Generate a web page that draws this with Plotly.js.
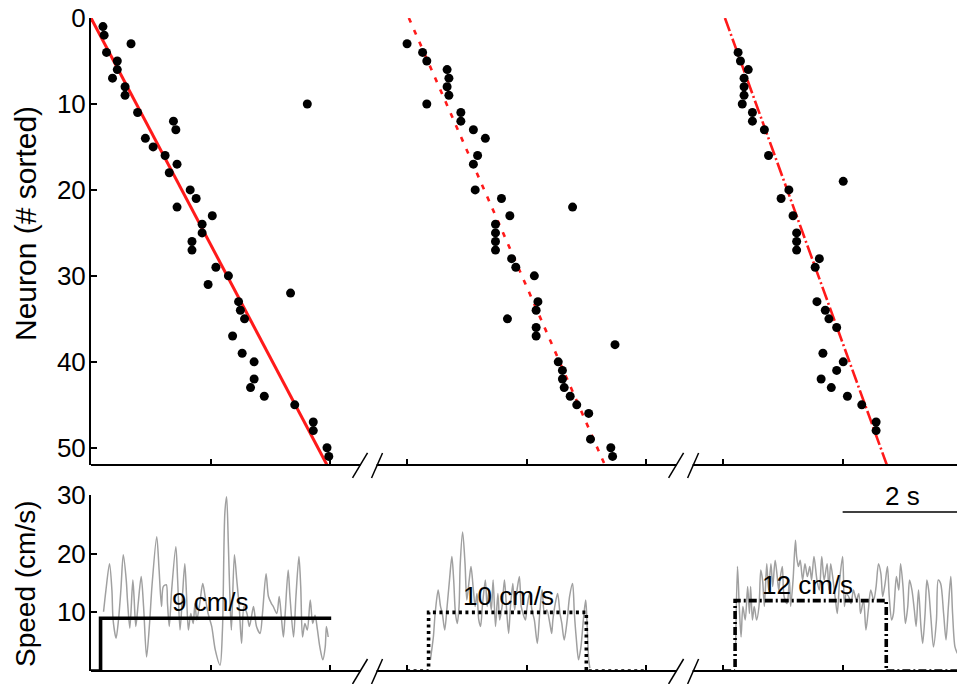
<!DOCTYPE html>
<html>
<head>
<meta charset="utf-8">
<script src="https://cdn.plot.ly/plotly-3.0.1.min.js"></script>
<style>
  html, body { margin: 0; padding: 0; background: #fff; }
  #chart { width: 957px; height: 684px; }
</style>
</head>
<body>
<div id="chart"></div>
<script>
// ---- Sequence raster: sorted neuron index and its peak-firing time (s from run onset) ----
const run1Neuron = [1,2,3,4,5,6,7,8,9,10,11,12,13,14,15,16,17,18,20,21,22,23,24,25,26,27,29,30,31,32,33,34,35,37,39,40,42,43,44,45,47,48,50,51];
const run1Time   = [0.20,0.22,0.67,0.26,0.44,0.44,0.36,0.57,0.57,3.62,0.78,1.38,1.42,0.91,1.04,1.24,1.44,1.31,1.66,1.76,1.44,2.03,1.86,1.86,1.69,1.69,2.09,2.30,1.96,3.34,2.47,2.50,2.57,2.37,2.53,2.73,2.73,2.67,2.90,3.41,3.72,3.72,3.95,3.98];

const run2Neuron = [3,4,5,6,7,8,9,10,11,12,13,14,16,17,20,21,22,23,24,25,26,27,28,29,30,33,34,35,36,37,38,40,41,42,43,44,45,46,49,50,51];
const run2Time   = [0.00,0.26,0.33,0.67,0.70,0.67,0.70,0.33,0.90,0.90,1.11,1.31,1.18,1.11,1.14,1.58,2.77,1.72,1.48,1.48,1.48,1.48,1.75,1.82,2.13,2.19,2.16,1.68,2.16,2.16,3.48,2.53,2.60,2.60,2.63,2.73,2.84,3.04,3.07,3.41,3.44];

const run3Neuron = [4,5,6,7,8,9,10,11,12,13,16,19,20,21,23,25,26,27,28,29,33,34,35,36,39,40,41,42,43,44,45,47,48];
const run3Time   = [0.25,0.29,0.42,0.35,0.35,0.35,0.32,0.49,0.49,0.69,0.76,2.01,1.10,0.97,1.17,1.23,1.23,1.23,1.61,1.54,1.57,1.71,1.77,1.90,1.67,2.01,1.90,1.64,1.81,2.08,2.32,2.56,2.56];

// Linear sequence fits: [start, end] time and neuron
const fitNeuron = [0, 52];
const run1FitTime = [0.00, 3.95];
const run2FitTime = [0.03, 3.31];
const run3FitTime = [0.03, 2.74];

// ---- Running speed (cm/s) ----
const run1SpeedTime = [0.21,0.25,0.31,0.35,0.37,0.42,0.46,0.50,0.54,0.59,0.61,0.65,0.70,0.72,0.75,0.79,0.84,0.88,0.93,0.98,1.02,1.10,1.14,1.18,1.21,1.26,1.28,1.31,1.35,1.42,1.45,1.49,1.53,1.57,1.60,1.63,1.67,1.71,1.74,1.77,1.82,1.87,1.91,1.96,2.02,2.08,2.16,2.20,2.24,2.27,2.30,2.33,2.35,2.40,2.44,2.48,2.52,2.56,2.61,2.65,2.69,2.72,2.77,2.83,2.87,2.93,2.97,3.02,3.05,3.11,3.15,3.19,3.22,3.25,3.30,3.33,3.39,3.43,3.48,3.51,3.54,3.58,3.62,3.67,3.71,3.75,3.79,3.83,3.88,3.92,3.94,3.97];
const run1Speed     = [10.1,13.8,18.3,13.8,8.7,5.6,8.7,13.8,19.8,15.5,12.1,7.3,15.5,12.7,7.6,11.5,16.1,11.0,2.4,8.1,14.4,22.9,17.2,11.0,14.4,14.7,11.5,7.6,13.8,21.2,15.5,7.0,12.7,18.3,12.7,7.0,9.8,8.1,11.5,8.7,11.5,14.9,12.7,9.8,7.6,3.6,1.0,7.0,26.9,29.7,21.2,11.0,7.0,19.8,15.5,11.0,4.7,11.0,9.8,7.6,9.5,11.0,7.6,6.4,9.8,16.6,12.7,11.5,11.0,9.8,12.7,8.7,5.8,9.8,17.2,12.7,5.8,12.7,19.5,14.4,5.8,8.1,7.0,12.1,8.1,9.5,7.0,4.1,1.9,4.1,7.6,5.8];

const run2SpeedTime = [0.39,0.44,0.47,0.52,0.56,0.59,0.63,0.67,0.71,0.75,0.78,0.81,0.84,0.87,0.89,0.93,0.97,1.00,1.04,1.07,1.11,1.14,1.17,1.20,1.23,1.26,1.31,1.34,1.37,1.41,1.44,1.48,1.52,1.55,1.59,1.63,1.67,1.70,1.73,1.77,1.80,1.84,1.88,1.91,1.94,1.98,2.01,2.05,2.09,2.13,2.18,2.22,2.26,2.30,2.34,2.39,2.42,2.44,2.48,2.52,2.56,2.59,2.63,2.68,2.72,2.77,2.80,2.83,2.87,2.91,2.96,2.99,3.01,3.04,3.06];
const run2Speed     = [1.9,5.8,9.8,13.8,11.0,9.8,7.0,11.0,15.5,19.5,15.5,9.8,8.1,11.0,18.3,23.7,18.3,12.1,15.5,17.8,13.8,11.0,13.2,8.7,7.6,11.0,15.5,11.0,13.8,10.4,15.5,7.6,13.2,8.7,11.0,15.5,9.8,6.4,11.0,14.9,10.4,13.8,16.1,11.0,9.8,8.7,11.0,13.2,10.4,8.7,4.7,9.8,13.8,9.8,10.4,8.1,6.4,8.7,11.5,13.2,9.8,8.1,5.3,8.7,12.7,14.9,9.8,5.8,1.9,4.1,9.8,12.1,8.7,1.9,0.5];

const run3SpeedTime = [0.21,0.24,0.27,0.30,0.33,0.37,0.41,0.44,0.46,0.49,0.52,0.56,0.60,0.63,0.66,0.69,0.73,0.76,0.80,0.83,0.87,0.90,0.93,0.95,0.99,1.02,1.07,1.11,1.13,1.17,1.21,1.23,1.26,1.29,1.33,1.37,1.41,1.45,1.48,1.52,1.57,1.61,1.65,1.69,1.74,1.77,1.80,1.84,1.88,1.91,1.95,2.00,2.03,2.06,2.10,2.14,2.18,2.23,2.27,2.30,2.35,2.39,2.43,2.47,2.52,2.56,2.60,2.64,2.67,2.71,2.75,2.78,2.82,2.85,2.90,2.94,2.97,3.01,3.05,3.09,3.12,3.16,3.20,3.23,3.27,3.31,3.34,3.38,3.41,3.44,3.48,3.52,3.57,3.60,3.64,3.69,3.73,3.77,3.81,3.84,3.88,3.92];
const run3Speed     = [4.7,17.8,11.0,5.8,11.0,8.7,14.4,9.8,14.4,8.7,11.0,8.7,11.0,17.2,15.5,11.0,18.3,13.8,18.3,14.4,18.9,16.6,13.8,15.5,17.8,12.7,11.5,15.5,11.0,15.5,22.3,19.5,17.8,18.9,15.5,18.3,16.1,17.8,15.5,19.5,15.5,13.8,19.5,15.5,18.3,13.8,18.3,15.5,12.1,9.8,15.5,19.5,11.0,13.2,12.7,11.5,13.8,12.1,13.2,9.8,12.1,7.0,10.4,13.8,12.1,14.4,18.3,16.6,12.7,14.9,17.8,12.7,8.7,9.8,16.1,13.8,18.3,14.4,8.1,11.0,15.5,13.8,10.4,7.6,13.8,7.6,4.7,9.8,15.5,13.8,8.7,4.1,8.7,15.5,14.9,9.8,5.3,11.0,16.1,9.8,4.1,3.0];

// ---- Belt speed protocol (cm/s) ----
const beltLevels = [9, 10, 12];
const run1StepTime = [0, 0.16, 0.16, 4.02];
const run1Step     = [0, 0, 9, 9];
const run2StepTime = [0, 0.36, 0.36, 3.00, 3.00, 4.00];
const run2Step     = [0, 0, 10, 10, 0, 0];
const run3StepTime = [0, 0.20, 0.20, 2.73, 2.73, 3.95];
const run3Step     = [0, 0, 12, 12, 0, 0];

const yTicksRaster = [0, 10, 20, 30, 40, 50];
const yTicksSpeed  = [10, 20, 30];

// ---- Layout of the broken time axis ----
const runOffset = [0, 5.29, 10.58];          // where each run starts on the shared time axis
const X_END = 14.494;
const PLOT_W = 957 - 91;
const secPerPx = X_END / PLOT_W;
const shift = (arr, k) => arr.map(t => t + runOffset[k]);

const RED = '#ff1a1a';
const redDash = ['solid', '5px,8px', '14px,3px,2px,3px'];
const blackDash = ['solid', '3px,3.5px', '8px,3px,2px,3px'];

const rasterN = [run1Neuron, run2Neuron, run3Neuron];
const rasterT = [run1Time, run2Time, run3Time];
const fitT = [run1FitTime, run2FitTime, run3FitTime];
const speedT = [run1SpeedTime, run2SpeedTime, run3SpeedTime];
const speedV = [run1Speed, run2Speed, run3Speed];
const stepT = [run1StepTime, run2StepTime, run3StepTime];
const stepV = [run1Step, run2Step, run3Step];

const traces = [];
for (let k = 0; k < 3; k++) {
  traces.push({
    x: shift(fitT[k], k), y: fitNeuron, xaxis: 'x', yaxis: 'y',
    mode: 'lines', line: { color: RED, width: k === 0 ? 3 : 2.6, dash: redDash[k] },
    hoverinfo: 'skip'
  });
}
for (let k = 0; k < 3; k++) {
  traces.push({
    x: shift(rasterT[k], k), y: rasterN[k], xaxis: 'x', yaxis: 'y',
    mode: 'markers', marker: { color: '#000', size: 9 }, cliponaxis: false
  });
}
for (let k = 0; k < 3; k++) {
  traces.push({
    x: shift(speedT[k], k), y: speedV[k], xaxis: 'x2', yaxis: 'y2',
    mode: 'lines', line: { color: '#a0a0a0', width: 1.5, shape: 'spline', smoothing: 0.8 }
  });
}
for (let k = 0; k < 3; k++) {
  traces.push({
    x: shift(stepT[k], k), y: stepV[k], xaxis: 'x2', yaxis: 'y2',
    mode: 'lines', line: { color: '#000', width: 3.6, dash: blackDash[k] }
  });
}

// tick marks at 0, 2 and 4 s of each run
const xTicks = [];
runOffset.forEach(o => [0, 2, 4].forEach(t => xTicks.push(o + t)));

// bottom axis lines with // breaks between runs
const breaks = [(4 + runOffset[1]) / 2, (runOffset[1] + 4 + runOffset[2]) / 2];
const gap = 8 * secPerPx;
const shapes = [];
['y domain', 'y2 domain'].forEach(yr => {
  const segs = [[0, breaks[0] - gap], [breaks[0] + gap, breaks[1] - gap], [breaks[1] + gap, X_END]];
  segs.forEach(s => shapes.push({
    type: 'line', xref: 'x', yref: yr, x0: s[0], x1: s[1], y0: 0, y1: 0,
    line: { color: '#000', width: 2 }
  }));
  breaks.forEach(b => {
    [[-16, -1], [3, 14]].forEach(p => shapes.push({
      type: 'line', xref: 'x', yref: yr, xsizemode: 'pixel', xanchor: b,
      ysizemode: 'pixel', yanchor: 0, x0: p[0], x1: p[1], y0: -13, y1: 12,
      line: { color: '#000', width: 1.5 }
    }));
  });
});
// 2 s scale bar
shapes.push({
  type: 'line', xref: 'x2', yref: 'y2', x0: runOffset[2] + 2, x1: runOffset[2] + 4,
  y0: 27.1, y1: 27.1, line: { color: '#000', width: 1.5 }
});

const labelT = [2.0, 1.69, 1.42];
const annotations = beltLevels.map((lv, k) => ({
  x: runOffset[k] + labelT[k], y: lv, xref: 'x2', yref: 'y2',
  text: lv + ' cm/s', showarrow: false, yanchor: 'bottom', yshift: -1,
  font: { size: 26 }
}));
annotations.push({
  x: runOffset[2] + 3, y: 27.1, xref: 'x2', yref: 'y2', text: '2 s',
  showarrow: false, yanchor: 'bottom', yshift: -1, font: { size: 26 }
});
// axis titles
annotations.push({
  x: 25, y: 224, xref: 'paper', yref: 'paper', text: 'Neuron (# sorted)',
  textangle: -90, showarrow: false, font: { size: 30 }
});
annotations.push({
  x: 25, y: 584, xref: 'paper', yref: 'paper', text: 'Speed (cm/s)',
  textangle: -90, showarrow: false, font: { size: 28 }
});

const xCommon = {
  range: [0, X_END], showline: false, zeroline: false, showgrid: false,
  showticklabels: false, ticks: 'inside', ticklen: 6, tickwidth: 2, tickcolor: '#000',
  tickmode: 'array', tickvals: xTicks
};
const yCommon = {
  showline: true, linewidth: 2, linecolor: '#000', zeroline: false, showgrid: false,
  ticks: 'inside', ticklen: 6, tickwidth: 2, tickcolor: '#000', tickmode: 'array',
  tickfont: { size: 26 }, ticklabelstandoff: -2
};

const M = { l: 91, r: 0, t: 18, b: 13 };
const W = 957, H = 684;
// place the title annotations in pixel terms
annotations.slice(-2).forEach(a => {
  a.x = (a.x - M.l) / (W - M.l - M.r);
  a.y = (H - M.b - a.y) / (H - M.t - M.b);
  a.xanchor = 'center'; a.yanchor = 'middle';
});

const layout = {
  width: W, height: H,
  margin: M,
  paper_bgcolor: '#fff', plot_bgcolor: 'rgba(0,0,0,0)',
  showlegend: false,
  font: { family: '"Liberation Sans", Arial, Helvetica, sans-serif', size: 24, color: '#000' },
  xaxis: Object.assign({ anchor: 'y', domain: [0, 1] }, xCommon),
  xaxis2: Object.assign({ anchor: 'y2', domain: [0, 1], matches: 'x' }, xCommon),
  yaxis: Object.assign({ domain: [0.3155, 1], range: [52, 0], tickvals: yTicksRaster }, yCommon),
  yaxis2: Object.assign({ domain: [0, 0.2695], range: [0, 30], tickvals: yTicksSpeed }, yCommon),
  shapes: shapes,
  annotations: annotations
};

Plotly.newPlot('chart', traces, layout, { staticPlot: true, displayModeBar: false });
</script>
</body>
</html>
